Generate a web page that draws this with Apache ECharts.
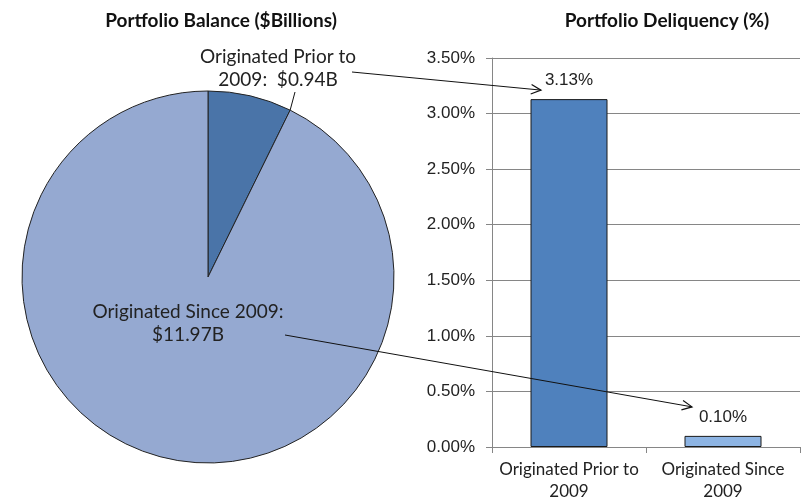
<!DOCTYPE html>
<html>
<head>
  <meta charset="utf-8">
  <title>Portfolio Balance and Deliquency</title>
  <script src="https://cdn.jsdelivr.net/npm/echarts@6/dist/echarts.min.js"></script>
  <style>
    html, body { margin: 0; padding: 0; background: #fff; }
    #main { width: 806px; height: 503px; }
  </style>
</head>
<body>
  <div id="main"></div>
  <script>
    // pie: portfolio balance in $ billions
    const balanceNames = ['Originated Prior to 2009', 'Originated Since 2009'];
    const balanceValues = [0.94, 11.97];
    const balanceLabels = ['Originated Prior to\n2009:  $0.94B', 'Originated Since 2009:\n$11.97B'];

    // bars: delinquency in percent
    const delqCategories = ['Originated Prior to\n2009', 'Originated Since\n2009'];
    const delqValues = [3.13, 0.10];

    const pieColors = ['#4a74a8', '#95a9d1'];
    const barColors = ['#4f81bd', '#8db4e3'];

    const chart = echarts.init(document.getElementById('main'));

    const pieCenter = [208, 277];
    const pieRadius = 186;

    chart.setOption({
      animation: false,
      title: [
        {
          text: 'Portfolio Balance ($Billions)',
          left: 216, top: 6, textAlign: 'center',
          textStyle: { fontFamily: 'Lato', fontWeight: 'bold', fontSize: 19, color: '#111' }
        },
        {
          text: 'Portfolio Deliquency (%)',
          left: 662, top: 6, textAlign: 'center',
          textStyle: { fontFamily: 'Lato', fontWeight: 'bold', fontSize: 19, color: '#111' }
        }
      ],
      grid: { left: 492, right: 6, top: 58, bottom: 56 },
      xAxis: {
        type: 'category',
        data: delqCategories,
        axisLine: { lineStyle: { color: '#868686' } },
        axisTick: { show: true, length: 6, lineStyle: { color: '#868686' } },
        axisLabel: {
          interval: 0,
          fontFamily: 'Lato', fontSize: 17, color: '#222', margin: 12, lineHeight: 22
        }
      },
      yAxis: {
        type: 'value',
        min: 0, max: 3.5, interval: 0.5,
        axisLine: { show: true, lineStyle: { color: '#868686' } },
        axisTick: { show: true, length: 6, lineStyle: { color: '#868686' } },
        splitLine: { lineStyle: { color: '#868686' } },
        axisLabel: {
          fontFamily: 'Liberation Sans', fontSize: 17, color: '#222', margin: 17,
          formatter: function (v) { return v.toFixed(2) + '%'; }
        }
      },
      series: [
        {
          type: 'pie',
          center: pieCenter,
          radius: pieRadius,
          startAngle: 90,
          clockwise: true,
          label: {
            show: true,
            fontFamily: 'Lato', fontSize: 19, color: '#222',
            lineHeight: 23, align: 'center', overflow: 'none', width: 300,
            formatter: function (p) { return balanceLabels[p.dataIndex]; }
          },
          labelLine: { show: false },
          labelLayout: function (p) {
            if (p.dataIndex === 0) {
              return { x: 278, y: 68, align: 'center', verticalAlign: 'middle' };
            }
            return { x: 188, y: 323, align: 'center', verticalAlign: 'middle' };
          },
          itemStyle: { borderColor: '#222', borderWidth: 1 },
          emphasis: { disabled: true },
          data: balanceValues.map(function (v, i) {
            return { name: balanceNames[i], value: v, itemStyle: { color: pieColors[i] } };
          })
        },
        {
          type: 'bar',
          barWidth: '50%',
          data: delqValues.map(function (v, i) {
            return { value: v, itemStyle: { color: barColors[i] } };
          }),
          itemStyle: { borderColor: '#1a1a1a', borderWidth: 1 },
          label: {
            show: true, position: 'top', distance: 10,
            fontFamily: 'Liberation Sans', fontSize: 17, color: '#222',
            formatter: function (p) { return p.value.toFixed(2) + '%'; }
          }
        }
      ]
    });

    // leader line and arrows drawn after layout, anchored to the bars
    function arrow(from, to) {
      const ang = Math.atan2(to[1] - from[1], to[0] - from[0]);
      const len = 11, spread = 0.45;
      const a = [to[0] - len * Math.cos(ang - spread), to[1] - len * Math.sin(ang - spread)];
      const b = [to[0] - len * Math.cos(ang + spread), to[1] - len * Math.sin(ang + spread)];
      return [
        { type: 'line', shape: { x1: from[0], y1: from[1], x2: to[0], y2: to[1] },
          style: { stroke: '#111', lineWidth: 1 }, z: 100 },
        { type: 'polyline', shape: { points: [a, to, b] },
          style: { stroke: '#111', lineWidth: 1.2, fill: null }, z: 100 }
      ];
    }

    const total = balanceValues[0] + balanceValues[1];
    const edgeAngle = balanceValues[0] / total * 2 * Math.PI;
    const edgePt = [pieCenter[0] + pieRadius * Math.sin(edgeAngle), pieCenter[1] - pieRadius * Math.cos(edgeAngle)];

    const top1 = chart.convertToPixel({ seriesIndex: 1 }, [0, delqValues[0]]);
    const top2 = chart.convertToPixel({ seriesIndex: 1 }, [1, delqValues[1]]);

    chart.setOption({
      graphic: [].concat(
        [{ type: 'line', shape: { x1: 295, y1: 92, x2: edgePt[0], y2: edgePt[1] },
           style: { stroke: '#111', lineWidth: 1 }, z: 100 }],
        arrow([352, 72], [top1[0] - 28, top1[1] - 9]),
        arrow([285, 335], [top2[0] - 31, top2[1] - 29])
      )
    });
  </script>
</body>
</html>
